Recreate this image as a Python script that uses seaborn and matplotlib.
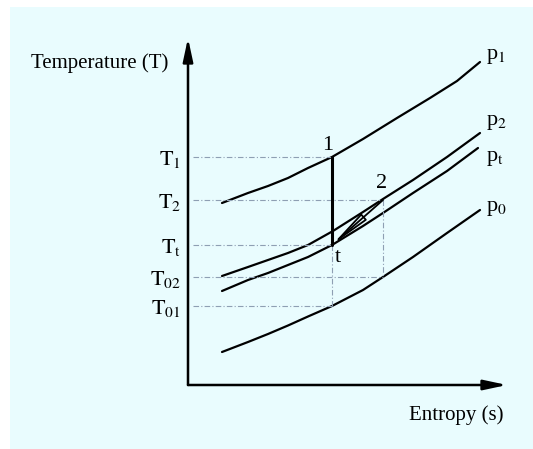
import matplotlib
matplotlib.use("Agg")
import pandas as pd
import seaborn as sns
import matplotlib.pyplot as plt
from matplotlib.patches import Rectangle

# isobars on the T-s diagram (entropy s, temperature T, arbitrary units)
s_p1 = [3.4, 6.0, 8.0, 10.0, 12.0, 14.4, 17.5, 20.9, 24.2, 26.9, 29.2]
T_p1 = [18.2, 19.2, 19.9, 20.7, 21.7, 22.8, 24.6, 26.7, 28.7, 30.4, 32.3]
s_p2 = [3.4, 6.0, 8.0, 10.0, 12.0, 14.5, 17.5, 19.5, 22.5, 25.9, 29.2]
T_p2 = [10.9, 11.8, 12.5, 13.2, 14.0, 15.4, 17.3, 18.6, 20.5, 22.8, 25.2]
s_pt = [3.4, 6.0, 8.0, 10.0, 12.0, 14.4, 17.5, 19.5, 22.5, 25.9, 29.0]
T_pt = [9.4, 10.5, 11.2, 12.0, 12.8, 14.0, 15.9, 17.2, 19.2, 21.4, 23.7]
s_p0 = [3.4, 6.0, 8.0, 10.0, 12.0, 14.4, 17.5, 19.5, 22.5, 25.9, 29.2]
T_p0 = [3.3, 4.3, 5.1, 5.95, 6.85, 7.9, 9.5, 10.8, 12.8, 15.2, 17.5]
curve_names = [r"p$_{1}$", r"p$_{2}$", r"p$_{\mathrm{t}}$", r"p$_{0}$"]
label_T = [32.8, 26.3, 22.7, 17.7]

# state points
s1, T1 = 14.4, 22.8
st, Tt = 14.4, 14.0
s2, T2 = 19.5, 18.5
T02, T01 = 10.8, 7.9
tick_vals = [T1, T2, Tt, T02, T01]
tick_labels = [r"$\mathrm{T}_{1}$", r"$\mathrm{T}_{2}$", r"$\mathrm{T}_{\mathrm{t}}$",
               r"$\mathrm{T}_{02}$", r"$\mathrm{T}_{01}$"]

sns.set_style("white")
plt.rcParams["font.family"] = ["Liberation Serif", "DejaVu Serif"]
plt.rcParams["mathtext.fontset"] = "stix"
plt.rcParams["text.color"] = "black"
plt.rcParams["ytick.color"] = "black"

fig = plt.figure(figsize=(5.33, 4.49), dpi=100)
fig.patches.append(Rectangle((10 / 533, 0), 1, 442 / 449, transform=fig.transFigure,
                             facecolor="#E9FCFE", edgecolor="none", zorder=-1))
ax = fig.add_axes([188 / 533, 64 / 449, 319 / 533, 347 / 449])
ax.set_facecolor("none")

curves = [(s_p1, T_p1), (s_p2, T_p2), (s_pt, T_pt), (s_p0, T_p0)]
for (xs, ys), name, ly in zip(curves, curve_names, label_T):
    df = pd.DataFrame({"s": xs, "T": ys})
    sns.lineplot(data=df, x="s", y="T", ax=ax, color="black", lw=1.6)
    ax.text(29.8, ly, name, fontsize=16, ha="left", va="center")

# guide lines
dash = dict(color="#8E9FB3", lw=0.8, ls=(0, (5, 2, 1, 2)))
for yv, xe in [(T1, s1), (T2, s2), (Tt, st), (T02, s2), (T01, s1)]:
    ax.plot([0.5, xe], [yv, yv], **dash)
ax.plot([st, st], [Tt, T01], **dash)
ax.plot([s2, s2], [T2, T02], **dash)

# process 1 -> t and 2 -> t
ax.plot([s1, st], [T1, Tt], color="black", lw=2.2)
ax.annotate("", xy=(st, Tt), xytext=(s2, T2),
            arrowprops=dict(arrowstyle="-|>,head_length=2.4,head_width=0.25",
                            lw=1.3, color="black", fc="none", shrinkA=0, shrinkB=0))
ax.text(s1 - 0.4, T1 + 1.2, "1", fontsize=16, ha="center", va="center")
ax.text(s2 - 0.1, T2 + 1.6, "2", fontsize=16, ha="center", va="center")
ax.text(st + 0.6, Tt - 1.2, "t", fontsize=16, ha="center", va="center")

ax.set_xlim(0, 31.9)
ax.set_ylim(0, 34.7)
ax.set_xticks([])
ax.set_yticks(tick_vals, tick_labels, fontsize=16)
ax.tick_params(axis="y", length=0, pad=5)
ax.set_xlabel("")
ax.set_ylabel("")
for sp in ax.spines.values():
    sp.set_visible(False)

# axes with arrow heads
arrow = dict(arrowstyle="-|>,head_length=1.4,head_width=0.3", lw=1.8, color="black",
             shrinkA=0, shrinkB=0)
ax.annotate("", xy=(0, 1), xytext=(0, 0), xycoords="axes fraction", arrowprops=arrow)
ax.annotate("", xy=(1, 0), xytext=(0, 0), xycoords="axes fraction", arrowprops=arrow)

ax.text(-2.0, 32.2, "Temperature (T)", fontsize=15, ha="right", va="center")
ax.text(31.5, -3.0, "Entropy (s)", fontsize=15, ha="right", va="center")

fig.savefig("out.png", dpi=100)
